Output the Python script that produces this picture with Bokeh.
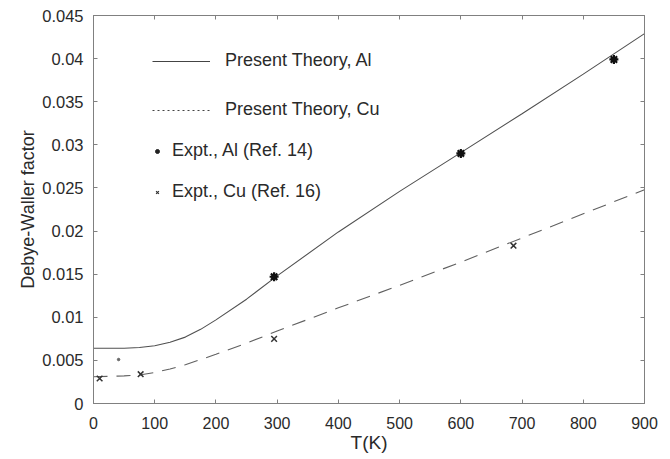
from bokeh.plotting import figure
from bokeh.models import Range1d, FixedTicker, LinearAxis, Legend, LegendItem, CustomJSTickFormatter
from bokeh.embed import file_html
from bokeh.resources import INLINE

# ---- data ----
T_al_theory = [0, 50, 75, 100, 125, 150, 175, 200, 250, 300, 400, 500, 600, 700, 800, 900]
al_theory = [0.0064, 0.0064, 0.0065, 0.0067, 0.0071, 0.0077, 0.0086, 0.0097, 0.0121, 0.0148,
             0.0199, 0.0246, 0.0291, 0.0336, 0.0382, 0.0429]
T_cu_theory = [0, 50, 75, 100, 125, 150, 200, 250, 300, 400, 500, 600, 700, 800, 900]
cu_theory = [0.0031, 0.0032, 0.0033, 0.0036, 0.0040, 0.0045, 0.0057, 0.0070, 0.0084,
             0.0111, 0.0137, 0.0164, 0.0192, 0.0220, 0.0248]

T_al_expt = [295, 600, 850]
al_expt = [0.0147, 0.0290, 0.0399]
T_al_low = [41]
al_low = [0.0051]

T_cu_expt = [10, 77, 295, 686]
cu_expt = [0.0029, 0.0034, 0.0075, 0.0183]

x_ticks = [0, 100, 200, 300, 400, 500, 600, 700, 800, 900]
y_ticks = [0, 0.005, 0.01, 0.015, 0.02, 0.025, 0.03, 0.035, 0.04, 0.045]
y_tick_labels = ["0", "0.005", "0.01", "0.015", "0.02", "0.025", "0.03", "0.035", "0.04", "0.045"]

FONT = "Liberation Sans"
INK = "#2a2a2a"
AXC = "#808080"
NAN = float("nan")

p = figure(width=662, height=457, output_backend="svg", toolbar_location=None,
           x_range=Range1d(0, 900), y_range=Range1d(0, 0.045),
           min_border_left=93, min_border_right=18, min_border_top=15, min_border_bottom=54)
p.background_fill_color = "white"
p.border_fill_color = "white"
p.outline_line_color = AXC
p.outline_line_width = 1
p.xgrid.visible = False
p.ygrid.visible = False

for ax in (p.xaxis[0], p.yaxis[0]):
    ax.major_tick_in = 4
    ax.major_tick_out = 0
    ax.minor_tick_in = 0
    ax.minor_tick_out = 0
    ax.axis_line_color = AXC
    ax.major_tick_line_color = AXC
    ax.major_label_text_font = FONT
    ax.major_label_text_color = INK
    ax.axis_label_text_font = FONT
    ax.axis_label_text_font_style = "normal"
    ax.axis_label_text_color = INK

p.xaxis[0].ticker = FixedTicker(ticks=x_ticks)
p.yaxis[0].ticker = FixedTicker(ticks=y_ticks)
p.yaxis[0].major_label_overrides = {t: l for t, l in zip(y_ticks, y_tick_labels)}
p.xaxis[0].major_label_text_font_size = "16px"
p.yaxis[0].major_label_text_font_size = "16.5px"
p.xaxis[0].axis_label = "T(K)"
p.xaxis[0].axis_label_text_font_size = "19px"
p.xaxis[0].major_label_standoff = 13
p.xaxis[0].axis_label_standoff = 0
p.yaxis[0].axis_label = "Debye-Waller factor"
p.yaxis[0].axis_label_text_font_size = "18px"
p.yaxis[0].major_label_standoff = 10
p.yaxis[0].axis_label_standoff = 1

blank = CustomJSTickFormatter(code="return ''")
for loc, ticks in (("right", y_ticks), ("above", x_ticks)):
    ax = LinearAxis(ticker=FixedTicker(ticks=ticks), formatter=blank)
    ax.major_tick_in = 4
    ax.major_tick_out = 0
    ax.minor_tick_in = 0
    ax.minor_tick_out = 0
    ax.axis_line_color = AXC
    ax.major_tick_line_color = AXC
    ax.major_label_standoff = 0
    p.add_layout(ax, loc)

# theory curves
p.line(T_al_theory, al_theory, line_color="#505050", line_width=1.1)
p.line(T_cu_theory, cu_theory, line_color="#606060", line_width=1.1, line_dash="14 9")

# experimental points
p.scatter(T_al_expt, al_expt, marker="asterisk", size=9, line_color="#111111", line_width=2.2)
p.scatter(T_al_expt, al_expt, marker="circle", size=5, fill_color="#111111", line_color="#111111")
p.scatter(T_al_low, al_low, marker="circle", size=2.5, fill_color="#666666", line_color="#666666")
p.scatter(T_cu_expt, cu_expt, marker="x", size=8, line_color="#333333", line_width=1.5)

# legend sample renderers (no visible data)
r_l1 = p.line([NAN], [NAN], line_color="#444444", line_width=1)
r_l2 = p.line([NAN], [NAN], line_color="#444444", line_width=1, line_dash="2 3")
r_m1 = p.scatter([NAN], [NAN], marker="circle", size=4, fill_color="#222222", line_color="#222222")
r_m2 = p.scatter([NAN], [NAN], marker="x", size=7, line_color="#333333", line_width=1.2)

def style_legend(lg, gw, standoff, spacing):
    lg.border_line_color = None
    lg.background_fill_alpha = 0
    lg.label_text_font = FONT
    lg.label_text_font_size = "18px"
    lg.label_text_color = INK
    lg.glyph_width = gw
    lg.glyph_height = 20
    lg.label_height = 20
    lg.label_standoff = standoff
    lg.spacing = spacing
    lg.padding = 0
    lg.margin = 0

lg1 = Legend(items=[LegendItem(label="Present Theory, Al", renderers=[r_l1]),
                    LegendItem(label="Present Theory, Cu", renderers=[r_l2])],
             location=(59, 283))
style_legend(lg1, 58, 15, 28)
lg2 = Legend(items=[LegendItem(label="Expt., Al (Ref. 14)", renderers=[r_m1]),
                    LegendItem(label="Expt., Cu (Ref. 16)", renderers=[r_m2])],
             location=(59, 201))
style_legend(lg2, 10, 10, 20)
p.add_layout(lg1, "center")
p.add_layout(lg2, "center")

open("out.html", "w").write(file_html(p, INLINE))
